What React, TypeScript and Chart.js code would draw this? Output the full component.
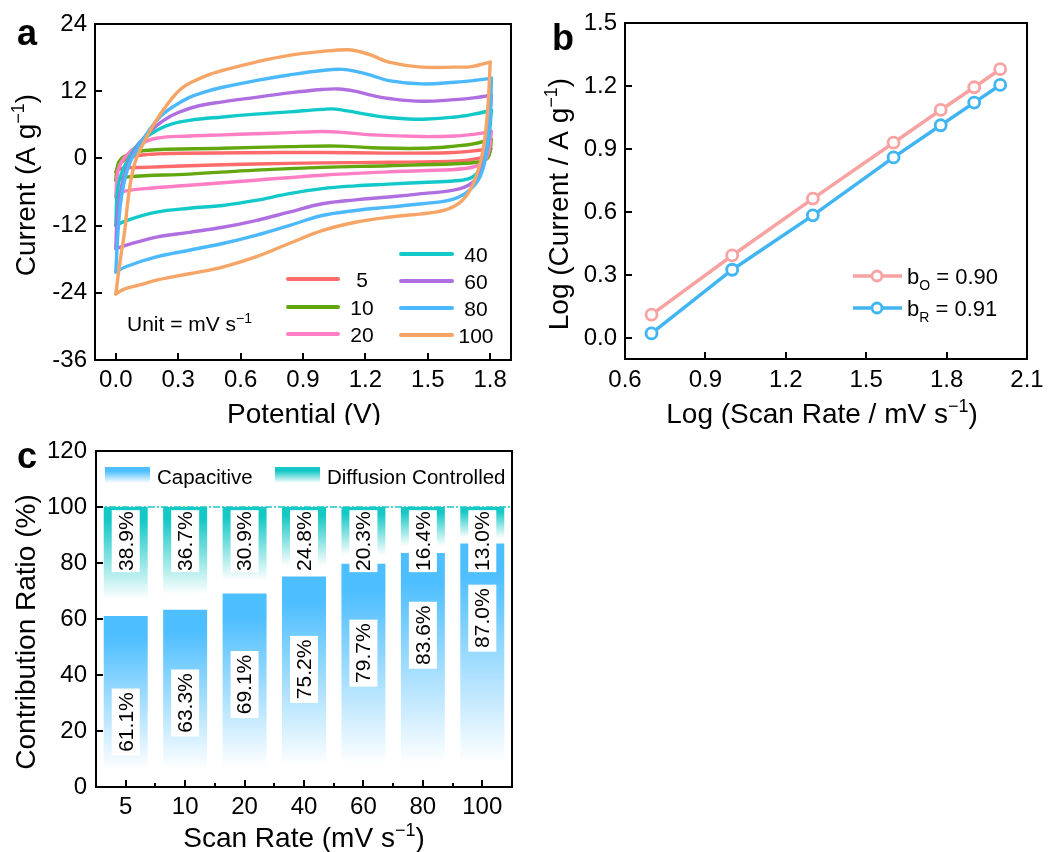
import React, { useEffect, useRef } from 'react';
import { Chart, registerables } from 'chart.js';
Chart.register(...registerables);

const FONT = "'Liberation Sans', Arial, Helvetica, sans-serif";
Chart.defaults.font.family = FONT;
Chart.defaults.color = '#000';

// ---------------- Panel a : CV curves ----------------
const scanRates = ['5', '10', '20', '40', '60', '80', '100'];
const cvColors = ['#FF6A6A', '#63A70E', '#FF7EC4', '#11C9C9', '#AF6FE0', '#4CB9FC', '#F6A566'];
const cvXTicks = [0, 0.3, 0.6, 0.9, 1.2, 1.5, 1.8];
const cvYTicks = [-36, -24, -12, 0, 12, 24];

const cv5Fwd = [[0, -2.4], [0.027, -0.7], [0.075, 0.3], [0.2, 0.8], [0.6, 1.0], [1.0, 1.05], [1.3, 0.95], [1.6, 1.0], [1.71, 1.3], [1.803, 1.7]];
const cv5Rev = [[1.803, 1.7], [1.782, 0.5], [1.742, 0.0], [1.65, -0.45], [1.312, -0.7], [0.992, -0.8], [0.673, -1.0], [0.354, -1.3], [0.139, -1.6], [0.027, -1.8], [0, -2.4]];
const cv10Fwd = [[0, -3.9], [0.011, -0.95], [0.043, 0.4], [0.139, 1.4], [0.514, 1.8], [0.833, 2.1], [1.072, 2.2], [1.232, 1.9], [1.471, 1.8], [1.631, 2.2], [1.72, 2.6], [1.806, 3.4]];
const cv10Rev = [[1.806, 3.4], [1.79, 0.2], [1.742, -0.65], [1.631, -0.95], [1.312, -1.3], [0.992, -1.6], [0.673, -2.1], [0.354, -2.8], [0.059, -3.3], [0, -3.9]];
const cv20Fwd = [[0, -6.9], [0.011, -2.1], [0.043, 0.2], [0.107, 2.3], [0.195, 3.6], [0.354, 4.0], [0.514, 4.2], [0.673, 4.4], [0.833, 4.6], [0.992, 4.8], [1.072, 4.7], [1.232, 4.2], [1.471, 3.9], [1.631, 4.0], [1.72, 4.3], [1.806, 4.8]];
const cv20Rev = [[1.806, 4.8], [1.79, 0.8], [1.758, -0.95], [1.679, -1.8], [1.471, -2.2], [1.312, -2.4], [0.992, -3.0], [0.673, -3.9], [0.354, -4.8], [0.139, -5.4], [0.027, -6.0], [0, -6.9]];
const cv40Fwd = [[0, -12.0], [0.008, -5.7], [0.027, -2.7], [0.075, 0.8], [0.12, 3.0], [0.195, 5.0], [0.274, 6.2], [0.354, 6.8], [0.514, 7.4], [0.673, 7.9], [0.833, 8.3], [0.992, 8.75], [1.056, 8.8], [1.232, 7.7], [1.312, 7.3], [1.471, 7.0], [1.631, 7.4], [1.72, 7.9], [1.806, 8.6]];
const cv40Rev = [[1.806, 8.6], [1.787, 2.0], [1.758, -1.55], [1.711, -3.4], [1.631, -4.0], [1.471, -4.3], [1.312, -4.6], [1.152, -4.9], [0.992, -5.4], [0.833, -6.3], [0.673, -7.5], [0.514, -8.4], [0.354, -8.9], [0.195, -9.6], [0.051, -11.1], [0, -12.0]];
const cv60Fwd = [[0, -16.1], [0.008, -9.9], [0.027, -5.1], [0.06, -1.0], [0.11, 2.5], [0.17, 5.0], [0.23, 6.8], [0.3, 8.2], [0.4, 9.4], [0.514, 10.1], [0.673, 10.9], [0.833, 11.7], [0.992, 12.3], [1.072, 12.4], [1.15, 12.0], [1.232, 11.25], [1.312, 10.7], [1.471, 10.2], [1.631, 10.5], [1.72, 10.8], [1.806, 11.3]];
const cv60Rev = [[1.806, 11.3], [1.79, 3.8], [1.767, -1.0], [1.727, -3.9], [1.647, -5.5], [1.471, -6.3], [1.312, -6.9], [1.152, -7.4], [0.992, -8.1], [0.833, -9.6], [0.673, -11.1], [0.514, -12.3], [0.354, -13.2], [0.195, -14.05], [0.051, -15.5], [0, -16.1]];
const cv80Fwd = [[0, -20.3], [0.011, -12.9], [0.027, -6.9], [0.059, -1.6], [0.107, 2.0], [0.16, 5.0], [0.215, 7.5], [0.274, 9.2], [0.354, 10.9], [0.43, 11.9], [0.514, 12.7], [0.673, 13.9], [0.833, 14.9], [0.992, 15.7], [1.088, 15.9], [1.16, 15.5], [1.232, 14.8], [1.312, 13.9], [1.471, 13.3], [1.631, 13.6], [1.72, 13.9], [1.806, 14.3]];
const cv80Rev = [[1.806, 14.3], [1.798, 6.8], [1.775, -0.4], [1.742, -3.9], [1.679, -6.3], [1.6, -7.5], [1.471, -8.1], [1.312, -8.7], [1.152, -9.3], [0.992, -10.2], [0.833, -12.0], [0.673, -13.75], [0.514, -15.2], [0.354, -16.4], [0.195, -17.6], [0.051, -19.3], [0, -20.3]];
const cv100Fwd = [[0, -24.2], [0.02, -18.5], [0.043, -12.9], [0.06, -7.0], [0.09, -1.0], [0.14, 3.2], [0.195, 6.8], [0.235, 9.0], [0.274, 10.9], [0.31, 12.3], [0.354, 13.4], [0.43, 14.7], [0.514, 15.7], [0.673, 17.2], [0.833, 18.4], [0.992, 19.1], [1.12, 19.4], [1.18, 19.0], [1.232, 18.4], [1.312, 17.2], [1.471, 16.3], [1.631, 16.3], [1.711, 16.4], [1.8, 17.2]];
const cv100Rev = [[1.8, 17.2], [1.79, 9.8], [1.775, 3.8], [1.751, -1.0], [1.711, -5.1], [1.663, -7.6], [1.6, -9.0], [1.55, -9.5], [1.471, -9.9], [1.312, -10.5], [1.152, -11.4], [0.992, -12.9], [0.833, -15.2], [0.673, -17.6], [0.514, -19.4], [0.354, -20.6], [0.2, -21.7], [0.115, -22.6], [0.043, -23.3], [0, -24.2]];
const cvForward = [cv5Fwd, cv10Fwd, cv20Fwd, cv40Fwd, cv60Fwd, cv80Fwd, cv100Fwd];
const cvReverse = [cv5Rev, cv10Rev, cv20Rev, cv40Rev, cv60Rev, cv80Rev, cv100Rev];

// ---------------- Panel b : log i vs log v ----------------
const logScanRate = [0.699, 1.0, 1.301, 1.602, 1.778, 1.903, 2.0];
const logIOx = [0.111, 0.393, 0.664, 0.93, 1.086, 1.194, 1.28];
const logIRed = [0.022, 0.325, 0.584, 0.86, 1.013, 1.121, 1.205];
const bValues = ['0.90', '0.91'];
const bSubs = ['O', 'R'];
const bXTicks = [0.6, 0.9, 1.2, 1.5, 1.8, 2.1];
const bYTicks = [0, 0.3, 0.6, 0.9, 1.2, 1.5];
const bColors = ['#F8A2A2', '#40B5F2'];

// ---------------- Panel c : contribution ratio ----------------
const rateCats = ['5', '10', '20', '40', '60', '80', '100'];
const capacitive = [61.1, 63.3, 69.1, 75.2, 79.7, 83.6, 87.0];
const diffusion = [38.9, 36.7, 30.9, 24.8, 20.3, 16.4, 13.0];
const capLabelAt = [23.2, 30.0, 36.6, 42.0, 47.8, 54.2, 60.3];
const diffLabelAt = 87.8;
const cYTicks = [0, 20, 40, 60, 80, 100, 120];
const BLUE = '#4DBEFF';
const TEAL = '#14C8C6';

type Part = { t: string; k?: 'sup' | 'sub' };

function drawRich(ctx: CanvasRenderingContext2D, parts: Part[], x: number, y: number, size: number, align: 'left' | 'center', rotate = false, weight = 'normal') {
  ctx.save();
  ctx.translate(x, y);
  if (rotate) ctx.rotate(-Math.PI / 2);
  ctx.fillStyle = '#000';
  ctx.textBaseline = 'alphabetic';
  ctx.textAlign = 'left';
  const small = Math.round(size * 0.65);
  const fontOf = (p: Part) => `${weight} ${p.k ? small : size}px ${FONT}`;
  const widths = parts.map((p) => {
    ctx.font = fontOf(p);
    return ctx.measureText(p.t).width;
  });
  const total = widths.reduce((a, b) => a + b, 0);
  let cx = align === 'center' ? -total / 2 : 0;
  parts.forEach((p, i) => {
    ctx.font = fontOf(p);
    const dy = p.k === 'sup' ? -size * 0.4 : p.k === 'sub' ? size * 0.25 : 0;
    ctx.fillText(p.t, cx, dy);
    cx += widths[i];
  });
  ctx.restore();
}

function drawFrame(chart: any, xTicks: number[], yTicks: number[], xMinor: number[] = []) {
  const { ctx, chartArea: a, scales } = chart;
  ctx.save();
  ctx.strokeStyle = '#000';
  ctx.lineWidth = 2;
  ctx.strokeRect(a.left, a.top, a.right - a.left, a.bottom - a.top);
  ctx.beginPath();
  xTicks.forEach((v) => {
    const px = Math.round(scales.x.getPixelForValue(v));
    ctx.moveTo(px, a.bottom);
    ctx.lineTo(px, a.bottom - 7);
  });
  xMinor.forEach((v) => {
    const px = Math.round(scales.x.getPixelForValue(v));
    ctx.moveTo(px, a.bottom);
    ctx.lineTo(px, a.bottom - 4);
  });
  yTicks.forEach((v) => {
    const py = Math.round(scales.y.getPixelForValue(v));
    ctx.moveTo(a.left, py);
    ctx.lineTo(a.left + 7, py);
  });
  ctx.stroke();
  ctx.restore();
}

const hiddenGrid = { display: false, drawTicks: false };
const tickFont = { size: 24, family: FONT };
const TITLE = 28;

function configA(): any {
  const datasets: any[] = [];
  scanRates.forEach((r, i) => {
    [cvForward[i], cvReverse[i]].forEach((pts) => {
      datasets.push({
        label: r,
        data: pts.map(([x, y]) => ({ x, y })),
        borderColor: cvColors[i],
        borderWidth: 3.4,
        pointRadius: 0,
        showLine: true,
        tension: 0.4,
        fill: false,
        borderCapStyle: 'round',
        borderJoinStyle: 'round',
        order: scanRates.length - i,
      });
    });
  });
  return {
    type: 'scatter',
    data: { datasets },
    options: {
      responsive: false,
      animation: false,
      events: [],
      layout: { padding: { top: 24, right: 9, left: 0, bottom: 0 } },
      plugins: { legend: { display: false }, tooltip: { enabled: false } },
      scales: {
        x: {
          type: 'linear', min: -0.1, max: 1.9,
          grid: hiddenGrid, border: { display: false },
          afterBuildTicks: (s: any) => { s.ticks = cvXTicks.map((v) => ({ value: v })); },
          afterFit: (s: any) => { s.height = 65; },
          ticks: { font: tickFont, padding: 6, maxRotation: 0, autoSkip: false, callback: (v: any) => Number(v).toFixed(1) },
        },
        y: {
          type: 'linear', min: -36, max: 24,
          grid: hiddenGrid, border: { display: false },
          afterBuildTicks: (s: any) => { s.ticks = cvYTicks.map((v) => ({ value: v })); },
          afterFit: (s: any) => { s.width = 95; },
          ticks: { font: tickFont, padding: 8, callback: (v: any) => String(v) },
        },
      },
    },
    plugins: [{
      id: 'panelA',
      afterDraw(chart: any) {
        const ctx = chart.ctx;
        drawFrame(chart, cvXTicks, cvYTicks);
        const rowsL = [279, 307, 334];
        const rowsR = [254, 281, 308, 335];
        scanRates.forEach((r, i) => {
          const left = i < 3;
          const y = left ? rowsL[i] : rowsR[i - 3];
          const x0 = left ? 288 : 401;
          const x1 = left ? 338 : 452;
          const tx = left ? 362 : 476;
          ctx.save();
          ctx.strokeStyle = cvColors[i];
          ctx.lineWidth = 4;
          ctx.lineCap = 'round';
          ctx.beginPath();
          ctx.moveTo(x0, y);
          ctx.lineTo(x1, y);
          ctx.stroke();
          ctx.fillStyle = '#000';
          ctx.font = `21px ${FONT}`;
          ctx.textAlign = 'center';
          ctx.textBaseline = 'alphabetic';
          ctx.fillText(r, tx, y + 8);
          ctx.restore();
        });
        drawRich(ctx, [{ t: 'Unit = mV s' }, { t: '\u22121', k: 'sup' }], 127, 331, 21, 'left');
        drawRich(ctx, [{ t: 'Potential (V)' }], 304, 423, TITLE, 'center');
        drawRich(ctx, [{ t: 'Current (A g' }, { t: '\u22121', k: 'sup' }, { t: ')' }], 35, 185, TITLE, 'center', true);
        drawRich(ctx, [{ t: 'a' }], 17, 45, 36, 'left', false, 'bold');
      },
    }],
  };
}

function configB(): any {
  const series = [logIOx, logIRed];
  return {
    type: 'scatter',
    data: {
      datasets: series.map((ys, i) => ({
        data: logScanRate.map((x, j) => ({ x, y: ys[j] })),
        showLine: true,
        borderColor: bColors[i],
        borderWidth: 3.5,
        pointRadius: 5.5,
        pointBorderWidth: 2.8,
        pointBorderColor: bColors[i],
        pointBackgroundColor: '#ffffff',
        tension: 0,
      })),
    },
    options: {
      responsive: false,
      animation: false,
      events: [],
      layout: { padding: { top: 23, right: 35, left: 0, bottom: 0 } },
      plugins: { legend: { display: false }, tooltip: { enabled: false } },
      scales: {
        x: {
          type: 'linear', min: 0.6, max: 2.1,
          grid: hiddenGrid, border: { display: false },
          afterBuildTicks: (s: any) => { s.ticks = bXTicks.map((v) => ({ value: v })); },
          afterFit: (s: any) => { s.height = 71; },
          ticks: { font: tickFont, padding: 7, maxRotation: 0, autoSkip: false, callback: (v: any) => Number(v).toFixed(1) },
        },
        y: {
          type: 'linear', min: -0.1, max: 1.5,
          grid: hiddenGrid, border: { display: false },
          afterBuildTicks: (s: any) => { s.ticks = bYTicks.map((v) => ({ value: v })); },
          afterFit: (s: any) => { s.width = 105; },
          ticks: { font: tickFont, padding: 8, callback: (v: any) => Number(v).toFixed(1) },
        },
      },
    },
    plugins: [{
      id: 'panelB',
      afterDraw(chart: any) {
        const ctx = chart.ctx;
        drawFrame(chart, bXTicks, bYTicks);
        const rows = [276, 308];
        rows.forEach((y, i) => {
          ctx.save();
          ctx.strokeStyle = bColors[i];
          ctx.lineWidth = 3.5;
          ctx.beginPath();
          ctx.moveTo(333, y);
          ctx.lineTo(382, y);
          ctx.stroke();
          ctx.fillStyle = '#fff';
          ctx.lineWidth = 2.8;
          ctx.beginPath();
          ctx.arc(357, y, 5, 0, Math.PI * 2);
          ctx.fill();
          ctx.stroke();
          ctx.restore();
          drawRich(ctx, [{ t: 'b' }, { t: bSubs[i], k: 'sub' }, { t: ' = ' + bValues[i] }], 387, y + 8, 22, 'left');
        });
        drawRich(ctx, [{ t: 'Log (Scan Rate / mV s' }, { t: '\u22121', k: 'sup' }, { t: ')' }], 302, 423, TITLE, 'center');
        drawRich(ctx, [{ t: 'Log (Current / A g' }, { t: '\u22121', k: 'sup' }, { t: ')' }], 48, 204, TITLE, 'center', true);
        drawRich(ctx, [{ t: 'b' }], 32, 50, 36, 'left', false, 'bold');
      },
    }],
  };
}

function gradientFor(c: any, top: number, bottom: number, color: string, fadeAt: number) {
  const chart = c.chart;
  const ys = chart.scales && chart.scales.y;
  if (!ys || !chart.chartArea) return color;
  const t = ys.getPixelForValue(top);
  const b = ys.getPixelForValue(bottom);
  const g = chart.ctx.createLinearGradient(0, t, 0, b);
  g.addColorStop(0, color);
  g.addColorStop(0.12, color);
  g.addColorStop(fadeAt, '#ffffff');
  g.addColorStop(1, '#ffffff');
  return g;
}

function configC(): any {
  return {
    type: 'bar',
    data: {
      labels: rateCats,
      datasets: [
        {
          label: 'Capacitive',
          data: capacitive,
          backgroundColor: (c: any) => c.dataIndex == null ? BLUE : gradientFor(c, capacitive[c.dataIndex], 0, BLUE, 0.9),
          borderWidth: 0,
          barPercentage: 0.74,
          categoryPercentage: 1,
        },
        {
          label: 'Diffusion Controlled',
          data: diffusion,
          backgroundColor: (c: any) => c.dataIndex == null ? TEAL : gradientFor(c, capacitive[c.dataIndex] + diffusion[c.dataIndex], capacitive[c.dataIndex], TEAL, 0.85),
          borderWidth: 0,
          barPercentage: 0.74,
          categoryPercentage: 1,
        },
      ],
    },
    options: {
      responsive: false,
      animation: false,
      events: [],
      layout: { padding: { top: 26, right: 8, left: 0, bottom: 0 } },
      plugins: { legend: { display: false }, tooltip: { enabled: false } },
      scales: {
        x: {
          stacked: true,
          grid: { ...hiddenGrid, offset: true }, border: { display: false },
          afterFit: (s: any) => { s.height = 65; },
          ticks: { font: tickFont, padding: 6, maxRotation: 0, autoSkip: false },
        },
        y: {
          stacked: true, min: 0, max: 120,
          grid: hiddenGrid, border: { display: false },
          afterBuildTicks: (s: any) => { s.ticks = cYTicks.map((v) => ({ value: v })); },
          afterFit: (s: any) => { s.width = 96; },
          ticks: { font: tickFont, padding: 9, callback: (v: any) => String(v) },
        },
      },
    },
    plugins: [{
      id: 'panelC',
      afterDatasetsDraw(chart: any) {
        const { ctx, chartArea: a, scales } = chart;
        const y100 = scales.y.getPixelForValue(100);
        ctx.save();
        ctx.strokeStyle = TEAL;
        ctx.lineWidth = 1.5;
        ctx.setLineDash([7, 2, 2, 2]);
        ctx.beginPath();
        ctx.moveTo(a.left, y100);
        ctx.lineTo(a.right, y100);
        ctx.stroke();
        ctx.restore();
        const drawLabel = (text: string, cx: number, cy: number, h: number) => {
          ctx.save();
          ctx.fillStyle = '#fff';
          ctx.fillRect(cx - 14, cy - h / 2, 28, h);
          ctx.translate(cx, cy);
          ctx.rotate(-Math.PI / 2);
          ctx.fillStyle = '#000';
          ctx.font = `21px ${FONT}`;
          ctx.textAlign = 'center';
          ctx.textBaseline = 'middle';
          ctx.fillText(text, 0, 1);
          ctx.restore();
        };
        rateCats.forEach((_, i) => {
          const cx = scales.x.getPixelForValue(i);
          drawLabel(diffusion[i].toFixed(1) + '%', cx, scales.y.getPixelForValue(diffLabelAt), 62);
          drawLabel(capacitive[i].toFixed(1) + '%', cx, scales.y.getPixelForValue(capLabelAt[i]), 67);
        });
        const items = [
          { label: 'Capacitive', color: BLUE, x: 105 },
          { label: 'Diffusion Controlled', color: TEAL, x: 275 },
        ];
        items.forEach((it) => {
          const g = ctx.createLinearGradient(0, 42, 0, 58);
          g.addColorStop(0, it.color);
          g.addColorStop(0.25, it.color);
          g.addColorStop(1, '#ffffff');
          ctx.save();
          ctx.fillStyle = g;
          ctx.fillRect(it.x, 42, 45, 16);
          ctx.restore();
          drawRich(ctx, [{ t: it.label }], it.x + 52, 59, 20.5, 'left');
        });
      },
      afterDraw(chart: any) {
        const ctx = chart.ctx;
        const idx = rateCats.map((_, i) => i);
        const minor = rateCats.slice(1).map((_, i) => i + 0.5);
        drawFrame(chart, idx, cYTicks, minor);
        drawRich(ctx, [{ t: 'Scan Rate (mV s' }, { t: '\u22121', k: 'sup' }, { t: ')' }], 304, 422, TITLE, 'center');
        drawRich(ctx, [{ t: 'Contribution Ratio (%)' }], 35, 207, TITLE, 'center', true);
        drawRich(ctx, [{ t: 'c' }], 17, 43, 36, 'left', false, 'bold');
      },
    }],
  };
}

export default function App() {
  const refA = useRef<HTMLCanvasElement>(null);
  const refB = useRef<HTMLCanvasElement>(null);
  const refC = useRef<HTMLCanvasElement>(null);
  useEffect(() => {
    const charts = [
      new Chart(refA.current as HTMLCanvasElement, configA()),
      new Chart(refB.current as HTMLCanvasElement, configB()),
      new Chart(refC.current as HTMLCanvasElement, configC()),
    ];
    return () => charts.forEach((c) => c.destroy());
  }, []);
  return (
    <div style={{ position: 'absolute', left: 0, top: 0, width: 1062, height: 852, background: '#fff', overflow: 'hidden' }}>
      <canvas ref={refA} width={520} height={425} style={{ position: 'absolute', left: 0, top: 0 }} />
      <canvas ref={refB} width={542} height={430} style={{ position: 'absolute', left: 520, top: 0 }} />
      <canvas ref={refC} width={520} height={427} style={{ position: 'absolute', left: 0, top: 425 }} />
    </div>
  );
}
